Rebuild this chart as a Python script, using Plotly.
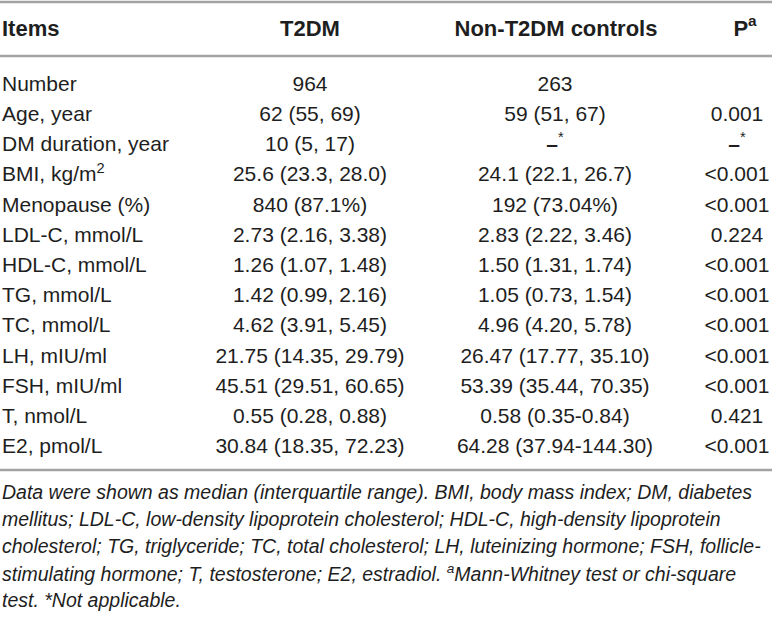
import plotly.graph_objects as go

# table content
items = ["Number", "Age, year", "DM duration, year", "BMI, kg/m<sup>2</sup>", "Menopause (%)",
         "LDL-C, mmol/L", "HDL-C, mmol/L", "TG, mmol/L", "TC, mmol/L", "LH, mIU/ml",
         "FSH, mIU/ml", "T, nmol/L", "E2, pmol/L"]
t2dm = ["964", "62 (55, 69)", "10 (5, 17)", "25.6 (23.3, 28.0)", "840 (87.1%)",
        "2.73 (2.16, 3.38)", "1.26 (1.07, 1.48)", "1.42 (0.99, 2.16)", "4.62 (3.91, 5.45)",
        "21.75 (14.35, 29.79)", "45.51 (29.51, 60.65)", "0.55 (0.28, 0.88)", "30.84 (18.35, 72.23)"]
controls = ["263", "59 (51, 67)", "<b>–</b><sup>*</sup>", "24.1 (22.1, 26.7)", "192 (73.04%)",
            "2.83 (2.22, 3.46)", "1.50 (1.31, 1.74)", "1.05 (0.73, 1.54)", "4.96 (4.20, 5.78)",
            "26.47 (17.77, 35.10)", "53.39 (35.44, 70.35)", "0.58 (0.35-0.84)", "64.28 (37.94-144.30)"]
p_values = [" ", "0.001", "<b>–</b><sup>*</sup>", "<0.001", "<0.001", "0.224", "<0.001", "<0.001",
            "<0.001", "<0.001", "<0.001", "0.421", "<0.001"]
headers = ["Items", "T2DM", "Non-T2DM controls", "P<sup>a</sup>"]
footnote = [
    "Data were shown as median (interquartile range). BMI, body mass index; DM, diabetes",
    "mellitus; LDL-C, low-density lipoprotein cholesterol; HDL-C, high-density lipoprotein",
    "cholesterol; TG, triglyceride; TC, total cholesterol; LH, luteinizing hormone; FSH, follicle-",
    "stimulating hormone; T, testosterone; E2, estradiol. <sup>a</sup>Mann-Whitney test or chi-square",
    "test. *Not applicable.",
]

W, H = 772, 617
FONT = "Liberation Sans, Arial, sans-serif"
TXT = "#1e1e1e"
LINE = "#a3a3a3"

row_y = [85.5 + 30.2 * i for i in range(len(items))]
col_x = [2, 310, 555, 737]
body_font = dict(size=21, color=TXT, family=FONT)
head_font = dict(size=22, color=TXT, family=FONT)

fig = go.Figure()
fig.add_trace(go.Scatter(x=[col_x[0]] * len(items), y=row_y, text=items, mode="text",
                         textposition="middle right", textfont=body_font, cliponaxis=False))
for cx, vals in zip(col_x[1:], [t2dm, controls, p_values]):
    fig.add_trace(go.Scatter(x=[cx] * len(vals), y=row_y, text=vals, mode="text",
                             textposition="middle center", textfont=body_font, cliponaxis=False))

# header row
fig.add_trace(go.Scatter(x=[col_x[0]], y=[30], text=["<b>" + headers[0] + "</b>"], mode="text",
                         textposition="middle right", textfont=head_font, cliponaxis=False))
fig.add_trace(go.Scatter(x=[310, 556, 745], y=[30] * 3, text=["<b>" + h + "</b>" for h in headers[1:]],
                         mode="text", textposition="middle center", textfont=head_font, cliponaxis=False))

for yy in [2, 56, 470]:
    fig.add_shape(type="line", x0=0, x1=W, y0=yy, y1=yy, line=dict(color=LINE, width=2.5))

for i, line in enumerate(footnote):
    fig.add_annotation(x=0, y=492 + 27 * i, text="<i>" + line + "</i>", showarrow=False,
                       xanchor="left", yanchor="middle",
                       font=dict(size=19.5, color=TXT, family=FONT))

fig.update_layout(width=W, height=H, margin=dict(l=0, r=0, t=0, b=0),
                  plot_bgcolor="white", paper_bgcolor="white", showlegend=False)
fig.update_xaxes(range=[0, W], visible=False, fixedrange=True)
fig.update_yaxes(range=[H, 0], visible=False, fixedrange=True)
fig.write_html("out.html", config={"displayModeBar": False},
               post_script="document.body.style.margin='0';document.body.style.overflow='hidden';")
